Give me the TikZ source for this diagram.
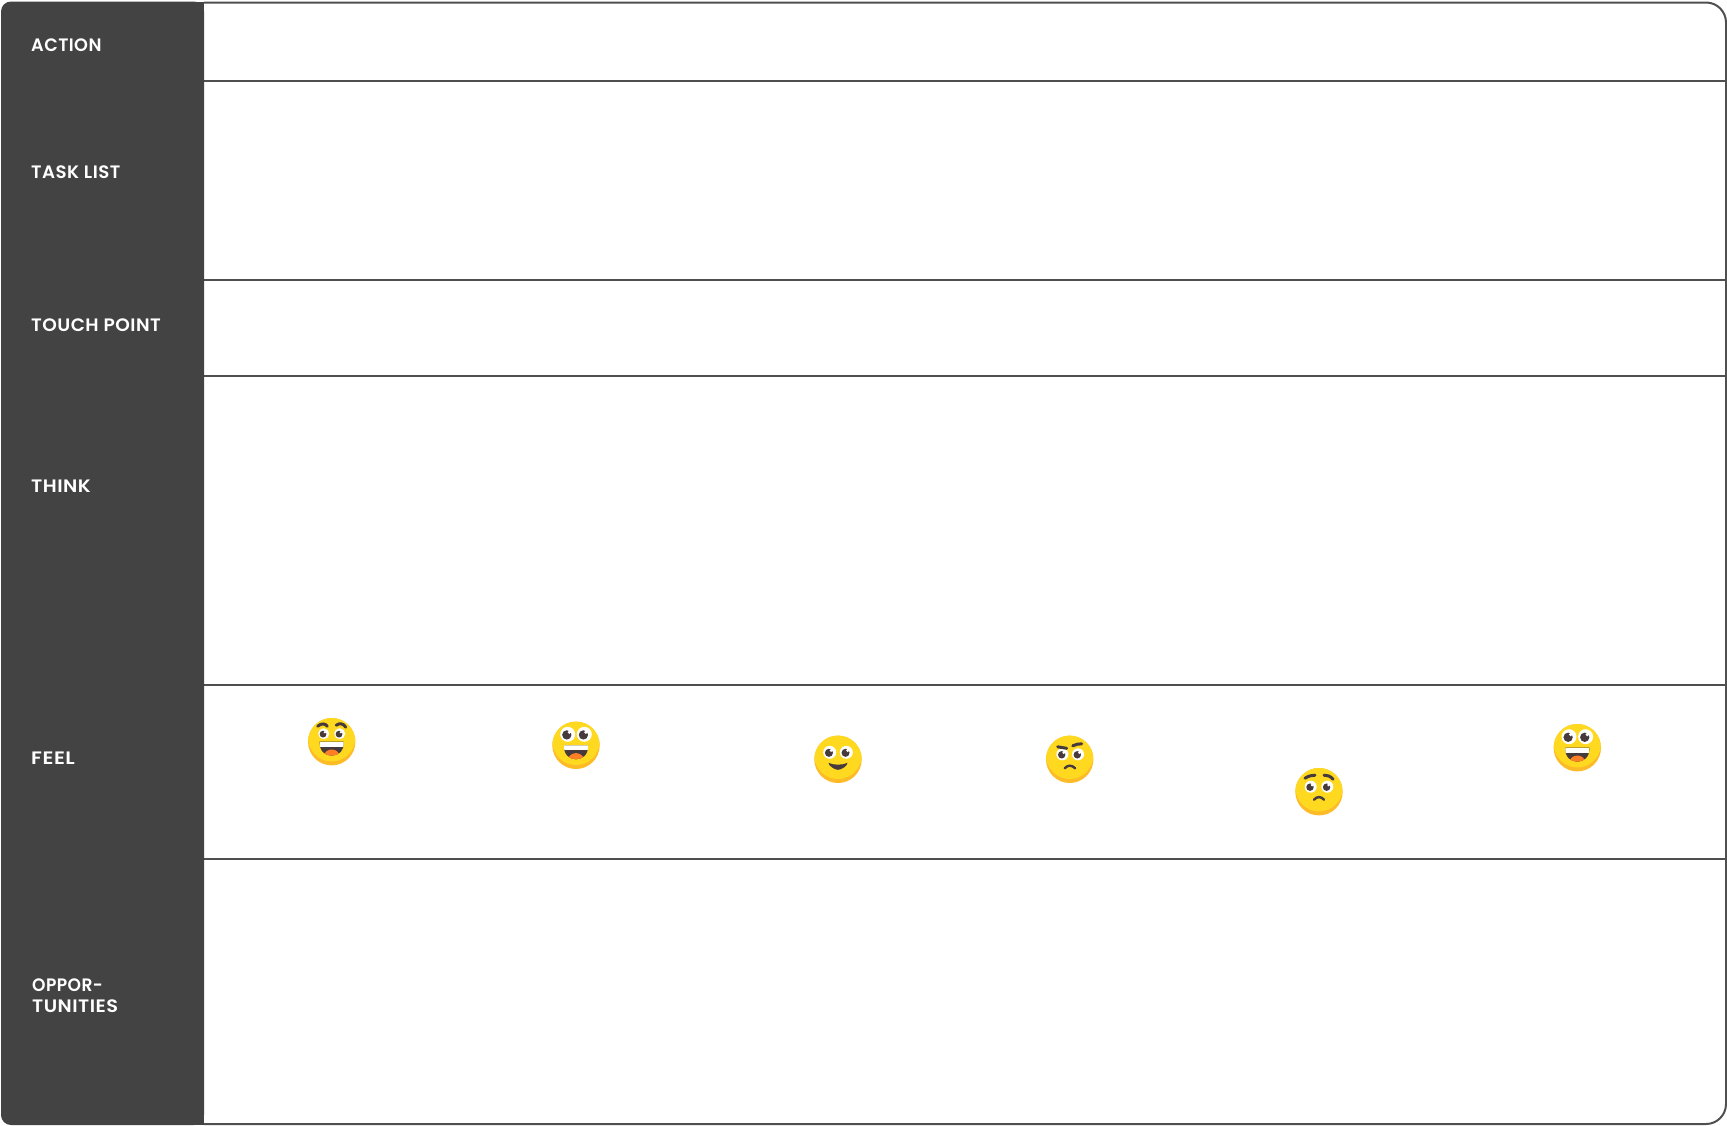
\documentclass[tikz,border=0pt]{standalone}
\usepackage{fontspec}
\setmainfont{Poppins SemiBold}[LetterSpace=2.5]
\definecolor{panel}{HTML}{434343}
\definecolor{rule}{HTML}{4F4F4F}
\definecolor{faceL}{HTML}{FFD91F}
\definecolor{faceD}{HTML}{FDBC27}
\definecolor{ink}{HTML}{463A3C}
\definecolor{tongue}{HTML}{FF7F27}
\tikzset{
  rowline/.style={draw=rule,line width=2pt},
  lab/.style={text=white,anchor=base west,inner sep=0pt,font=\fontsize{18}{18}\selectfont},
  stroke/.style={draw=ink,line cap=round,fill=none},
  eyeball/.pic={
    \fill[white] (0,0) circle[radius=#1];
    \fill[ink] (-#1*.12,#1*.08) circle[radius=#1*.62];
    \fill[white] (#1*.22,-#1*.28) circle[radius=#1*.24];
  },
  eyeball/.default=6,
  facebase/.pic={
    \fill[faceD] (0,0) circle[radius=23.7];
    \begin{scope}
      \clip (0,0) circle[radius=23.7];
      \fill[faceL] (0,-4) circle[radius=23.7];
    \end{scope}
  },
  bigmouth/.pic={
    \fill[ink] (-12,0) -- (12,0) .. controls (12.5,9) and (7,14) .. (0,14) .. controls (-7,14) and (-12.5,9) .. (-12,0) -- cycle;
    \begin{scope}
      \clip (-12,0) -- (12,0) .. controls (12.5,9) and (7,14) .. (0,14) .. controls (-7,14) and (-12.5,9) .. (-12,0) -- cycle;
      \fill[white] (-12,0) rectangle (12,4.8);
      \fill[tongue] (0,15) ellipse[x radius=8,y radius=7.2];
    \end{scope}
  },
}
\begin{document}
\begin{tikzpicture}[x=1pt,y=-1pt]
\useasboundingbox (0,0) rectangle (1727,1125);
% table frame
\coordinate (tl) at (204,2.5);
\coordinate (tr) at (1726,2.5);
\coordinate (br) at (1726,1124);
\coordinate (bl) at (204,1124);
\draw[rowline,rounded corners=20pt] (tl) -- (tr) -- (br) -- (bl);
\foreach \n/\y in {a/81,b/280,c/376,d/685,e/859}{
  \coordinate (\n l) at (204,\y);
  \coordinate (\n r) at (1726,\y);
  \draw[rowline] (\n l) -- (\n r);
}
% side panel
\fill[panel,rounded corners=10pt] (1,1.5) -- (204,1.5) -- (204,1125) -- (1,1125) -- cycle;
\fill[panel] (100,1.5) rectangle (204,1125);
% labels
\node[lab] (action) at (31,51) {\scalebox{0.98}[1]{ACTION}};
\node[lab] (task) at (31,178) {\scalebox{1.01}[1]{TASK LIST}};
\node[lab] (touch) at (31,331) {\scalebox{1.03}[1]{TOUCH POINT}};
\node[lab] (think) at (31,492) {\scalebox{1.08}[1]{THINK}};
\node[lab] (feel) at (31,764) {\scalebox{1.14}[1]{FEEL}};
\node[lab] (oppa) at (32,991) {\scalebox{0.95}[1]{OPPOR-}};
\node[lab] (oppb) at (32,1012) {\scalebox{1.07}[1]{TUNITIES}};
% emoji 1
\begin{scope}[shift={(331.7,741.7)}]
  \pic {facebase};
  \pic at (-8,-8) {eyeball=5.5};
  \pic at (8,-8) {eyeball=5.5};
  \draw[stroke,line width=3pt] (-14,-15.5) .. controls (-10,-19) and (-6,-18) .. (-4.5,-15.5);
  \draw[stroke,line width=3pt] (4.5,-16.5) .. controls (8,-19) and (12,-18) .. (14,-14.5);
  \pic at (0,0) {bigmouth};
\end{scope}
% emoji 2
\begin{scope}[shift={(576,745.3)}]
  \pic {facebase};
  \pic at (-8.3,-11) {eyeball=7.5};
  \pic at (8.3,-11) {eyeball=7.5};
  \pic at (0,0) {bigmouth};
\end{scope}
% emoji 3
\begin{scope}[shift={(838,759.3)}]
  \pic {facebase};
  \pic at (-8.3,-7) {eyeball=6.5};
  \pic at (8.3,-7) {eyeball=6.5};
  \fill[ink] (-9.5,3.5) .. controls (-5,6) and (5,6) .. (9.5,3.5) .. controls (9.5,6) and (4,10.5) .. (0,10.5) .. controls (-4,10.5) and (-9.5,6) .. (-9.5,3.5) -- cycle;
\end{scope}
% emoji 4
\begin{scope}[shift={(1069.7,759.3)}]
  \pic {facebase};
  \pic at (-7.3,-5) {eyeball=6};
  \pic at (8.3,-5) {eyeball=6};
  \draw[stroke,line width=3pt] (-12,-12.5) -- (-3,-11);
  \draw[stroke,line width=3pt] (3,-13.5) .. controls (6,-15) and (9,-15.5) .. (12,-15.5);
  \draw[stroke,line width=2.4pt] (-5,9) .. controls (-2,5.5) and (2,5.5) .. (5.5,9);
\end{scope}
% emoji 5
\begin{scope}[shift={(1319,791.7)}]
  \pic {facebase};
  \pic at (-8.3,-5) {eyeball=6};
  \pic at (8.3,-5) {eyeball=6};
  \draw[stroke,line width=3pt] (-14,-13.5) .. controls (-10,-16) and (-7,-16.5) .. (-4,-16.5);
  \draw[stroke,line width=3pt] (5,-16.5) .. controls (8,-16.5) and (11,-16) .. (14,-12.5);
  \draw[stroke,line width=2.4pt] (-5,8) .. controls (-2,4.5) and (2,4.5) .. (5,8);
\end{scope}
% emoji 6
\begin{scope}[shift={(1577.3,747.7)}]
  \pic {facebase};
  \pic at (-8.3,-11) {eyeball=7.5};
  \pic at (8.3,-11) {eyeball=7.5};
  \pic at (0,0) {bigmouth};
\end{scope}
\end{tikzpicture}
\end{document}
